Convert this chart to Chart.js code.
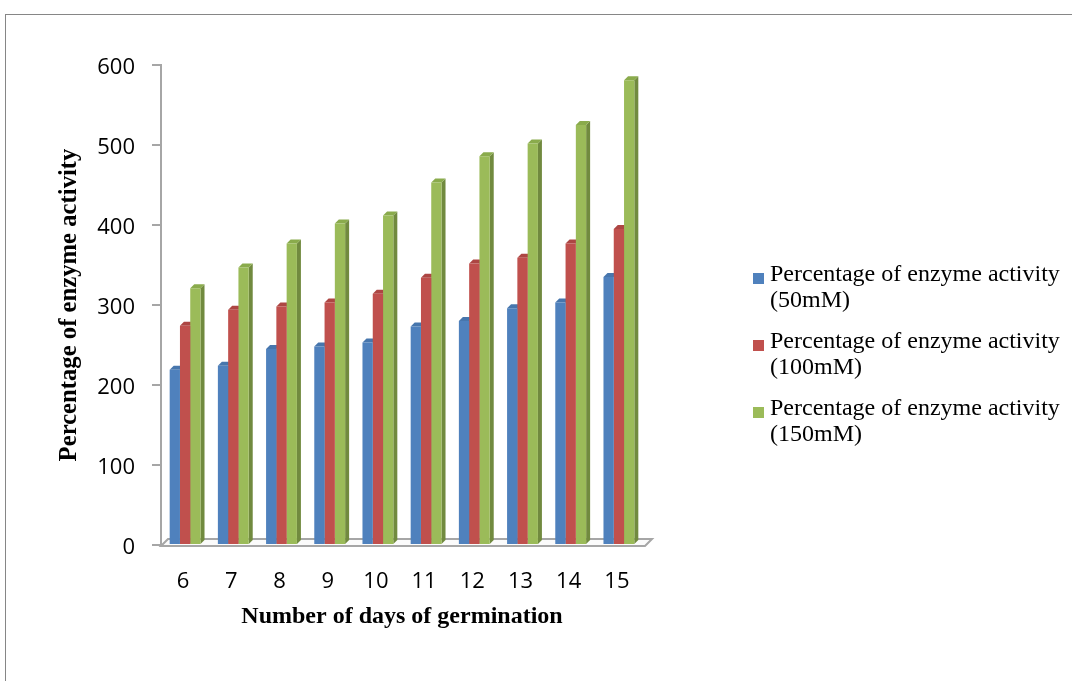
<!DOCTYPE html>
<html>
<head>
<meta charset="utf-8">
<script src="https://cdn.jsdelivr.net/npm/chart.js@4.4.0/dist/chart.umd.min.js"></script>
<style>
  html, body { margin: 0; padding: 0; background: #fff; }
  #wrap { position: relative; width: 1072px; height: 681px; overflow: hidden; }
  #frame { position: absolute; left: 5px; top: 14px; width: 1200px; height: 800px;
           border-top: 1px solid #868686; border-left: 1px solid #868686; }
  #c { position: absolute; left: 0; top: 0; }
  #legend { position: absolute; left: 753px; top: 260px; width: 319px;
            font-family: "Liberation Serif", "Times New Roman", serif; font-size: 24px;
            line-height: 26px; color: #000; }
  .item { position: relative; padding-left: 17px; margin-bottom: 15px; }
  .sw { position: absolute; left: 0; top: 13px; width: 11px; height: 11px; }
</style>
</head>
<body>
<div id="wrap">
  <div id="frame"></div>
  <canvas id="c" width="1072" height="681"></canvas>
  <div id="legend"></div>
</div>
<script>
// Days of germination
const days = ['6', '7', '8', '9', '10', '11', '12', '13', '14', '15'];

// Percentage of enzyme activity at each salt concentration
const activity50mM  = [219, 224, 245, 248, 253, 273, 280, 296, 303, 335];
const activity100mM = [274, 294, 298, 303, 314, 334, 352, 359, 377, 395];
const activity150mM = [321, 347, 377, 402, 412, 453, 486, 502, 525, 581];

const seriesNames = [
  'Percentage of enzyme activity (50mM)',
  'Percentage of enzyme activity (100mM)',
  'Percentage of enzyme activity (150mM)'
];

// Value axis: 0 to 600 in steps of 100
const yMin = 0, yMax = 600, yStep = 100;

// Front, side and top shades of each series
const palette = [
  { front: '#4f81bd', side: '#3a6494', top: '#4776ad' },
  { front: '#c0504d', side: '#8f3a38', top: '#ad4643' },
  { front: '#9bbb59', side: '#718a3f', top: '#8aab4c' }
];

// Draws the floor slab and the side/top faces that give each column depth
const DX = 4, DY = 4;
const columns3d = {
  id: 'columns3d',
  beforeDatasetsDraw(chart) {
    const { ctx, chartArea: a, scales: { y } } = chart;
    const base = y.getPixelForValue(0);
    ctx.save();
    ctx.beginPath();
    ctx.moveTo(a.left, base + 1);
    ctx.lineTo(a.left + 7, base - 6);
    ctx.lineTo(a.right + 9, base - 6);
    ctx.lineTo(a.right + 2, base + 1);
    ctx.closePath();
    ctx.fillStyle = '#fbfbfb';
    ctx.fill();
    ctx.strokeStyle = '#a6a6a6';
    ctx.lineWidth = 2;
    ctx.stroke();

    chart.data.datasets.forEach((ds, i) => {
      const meta = chart.getDatasetMeta(i);
      meta.data.forEach(bar => {
        const l = bar.x - bar.width / 2, r = bar.x + bar.width / 2;
        const t = bar.y, b = bar.base;
        ctx.fillStyle = ds.sideColor;
        ctx.beginPath();
        ctx.moveTo(r, t);
        ctx.lineTo(r + DX, t - DY);
        ctx.lineTo(r + DX, b - DY);
        ctx.lineTo(r, b);
        ctx.closePath();
        ctx.fill();
        ctx.fillStyle = ds.topColor;
        ctx.beginPath();
        ctx.moveTo(l, t);
        ctx.lineTo(l + DX, t - DY);
        ctx.lineTo(r + DX, t - DY);
        ctx.lineTo(r, t);
        ctx.closePath();
        ctx.fill();
      });
    });
    ctx.restore();
  }
};

const seriesData = [activity50mM, activity100mM, activity150mM];
const datasets = seriesData.map((values, i) => ({
  label: seriesNames[i],
  data: values,
  backgroundColor: palette[i].front,
  sideColor: palette[i].side,
  topColor: palette[i].top,
  borderWidth: 0
}));

const tickFont = { family: '"Open Sans", sans-serif', size: 22 };
const titleFont = { family: '"Liberation Serif", "Times New Roman", serif', size: 24, weight: 'bold' };

const chart = new Chart(document.getElementById('c'), {
  type: 'bar',
  data: { labels: days, datasets },
  options: {
    responsive: false,
    animation: false,
    layout: { padding: { left: 50, right: 429, top: 65, bottom: 50 } },
    datasets: { bar: { categoryPercentage: 0.64, barPercentage: 1 } },
    plugins: { legend: { display: false }, tooltip: { enabled: false } },
    scales: {
      x: {
        grid: { display: false, drawTicks: false },
        border: { display: false },
        ticks: { font: tickFont, color: '#000', padding: 24, maxRotation: 0, labelOffset: -2 },
        title: { display: true, text: 'Number of days of germination', font: titleFont,
                 color: '#000', padding: { top: 0, bottom: 0 } },
        afterFit(s) { s.height = 86; }
      },
      y: {
        min: yMin, max: yMax,
        ticks: { stepSize: yStep, font: tickFont, color: '#000', padding: 17, labelOffset: 3 },
        grid: { drawOnChartArea: false, drawTicks: true, tickLength: 9, color: '#a6a6a6', lineWidth: 2 },
        border: { color: '#a6a6a6', width: 2 },
        title: { display: true, text: 'Percentage of enzyme activity',
                 font: Object.assign({}, titleFont, { size: 24.7 }),
                 color: '#000', padding: { top: 5, bottom: 0 } },
        afterFit(s) { s.width = 111; }
      }
    }
  },
  plugins: [columns3d]
});

// Legend built from the chart's own datasets
const legend = document.getElementById('legend');
chart.data.datasets.forEach(ds => {
  const item = document.createElement('div');
  item.className = 'item';
  const sw = document.createElement('span');
  sw.className = 'sw';
  sw.style.background = ds.backgroundColor;
  item.appendChild(sw);
  item.appendChild(document.createTextNode(ds.label));
  legend.appendChild(item);
});
</script>
</body>
</html>
